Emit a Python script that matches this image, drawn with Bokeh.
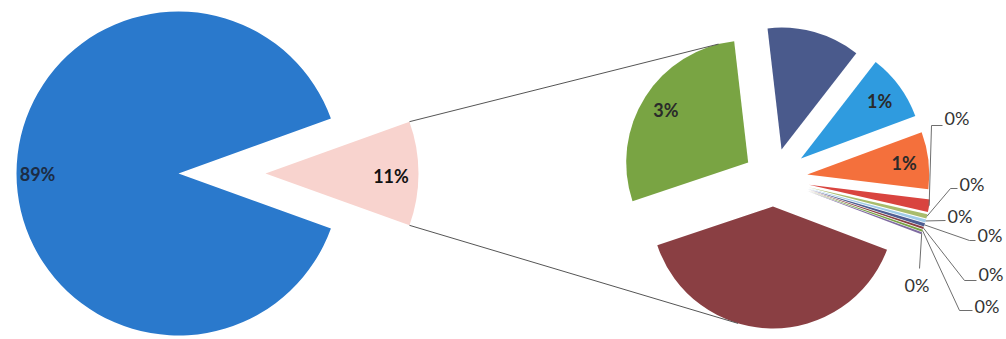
import math
from bokeh.plotting import figure
from bokeh.models import Range1d
from bokeh.embed import file_html
from bokeh.resources import INLINE
from bokeh.core.properties import value

# ---------------- data ----------------
main_categories = ["Main", "Detail"]
main_values = [89, 11]
main_colors = ["#2A79CC", "#F8D3CE"]

sub_categories = ["S1", "S2", "S3", "S4", "S5", "S6", "S7", "S8", "S9", "S10", "S11", "S12"]
sub_values = [1.35, 0.97, 0.83, 0.18, 0.06, 0.045, 0.045, 0.03, 0.03, 0.03, 4.28, 3.10]
sub_colors = ["#4A5A8C", "#2F9BDF", "#F4703C", "#D9443F", "#A9BC6C", "#9FCBE8",
              "#4E5E92", "#8A3F43", "#79A443", "#7E6AA0", "#8A3F43", "#79A443"]
sub_show_label = [False, True, True, True, True, True, True, True, True, True, False, True]

# ---------------- layout (image pixel coords, y down) ----------------
H = 339
def Y(y):
    return H - y

W_FIG, H_FIG = 1006, 339
p = figure(width=W_FIG, height=H_FIG, x_range=Range1d(0, 1006), y_range=Range1d(0, 339),
           x_axis_type=None, y_axis_type=None, toolbar_location=None,
           output_backend="svg", min_border=0, outline_line_color=None,
           background_fill_color="white", border_fill_color="white")
p.grid.visible = False

FONT = value("Lato")

# ---- main pie ----
mc = (178, Y(173))
mr = 162
detail_offset = 87
detail_r = 153
half = main_values[1] / sum(main_values) * 360 / 2
p.wedge(x=[mc[0]], y=[mc[1]], radius=mr, start_angle=[math.radians(half)],
        end_angle=[math.radians(360 - half)], direction="anticlock",
        fill_color=main_colors[0], line_color=None)
dc = (mc[0] + detail_offset, mc[1])
p.wedge(x=[dc[0]], y=[dc[1]], radius=detail_r, start_angle=[math.radians(-half)],
        end_angle=[math.radians(half)], direction="anticlock",
        fill_color=main_colors[1], line_color=None)

p.text(x=[mc[0] - mr * 0.87], y=[mc[1]], text=[f"{main_values[0]}%"],
       text_align="center", text_baseline="middle", text_font=FONT,
       text_font_size="18px", text_font_style="bold", text_color="#1C2C44")
p.text(x=[dc[0] + detail_r * 0.82], y=[dc[1] - 2], text=[f"{main_values[1]}%"],
       text_align="center", text_baseline="middle", text_font=FONT,
       text_font_size="18px", text_font_style="bold", text_color="#111111")

# ---- second pie ----
sc = (773, Y(178))
sr = 122
explode = [30, 34, 34, 36, 36, 36, 36, 36, 36, 36, 28, 30]
start_deg = 96.6
tot = sum(sub_values)
angles = []
a = start_deg
for v in sub_values:
    span = v / tot * 360
    angles.append((a - span, a))
    a -= span

centers = []
for (a0, a1), e, col in zip(angles, explode, sub_colors):
    mid = math.radians((a0 + a1) / 2)
    cx = sc[0] + e * math.cos(mid)
    cy = sc[1] + e * math.sin(mid)
    centers.append((cx, cy, mid))
    p.wedge(x=[cx], y=[cy], radius=sr, start_angle=[math.radians(a0)],
            end_angle=[math.radians(a1)], direction="anticlock",
            fill_color=col, line_color=None)

# inside labels for bigger slices, outside labels for tiny slices
outside_layout = [
    ((944, 117), [(931, 125), (942, 125)]),
    ((959, 183), [(950, 188), (957, 188)]),
    ((947, 215), [(945, 220)]),
    ((977, 234), [(969, 240), (975, 240)]),
    ((978, 273), [(964, 280), (976, 280)]),
    ((974, 305), [(959, 310), (972, 310)]),
    ((904, 284), [(919, 268)]),
]
k = 0
for i, v in enumerate(sub_values):
    if not sub_show_label[i]:
        continue
    cx, cy, mid = centers[i]
    txt = f"{round(v)}%"
    if v >= 0.5:
        p.text(x=[cx + sr * 0.8 * math.cos(mid)], y=[cy + sr * 0.8 * math.sin(mid)],
               text=[txt], text_align="center", text_baseline="middle", text_font=FONT,
               text_font_size="18px", text_font_style="bold", text_color="#2A2A2A")
    else:
        (lx, ly), elbow = outside_layout[k]
        k += 1
        ax = cx + sr * math.cos(mid)
        ay = cy + sr * math.sin(mid)
        xs = [ax] + [e[0] for e in elbow]
        ys = [ay] + [Y(e[1]) for e in elbow]
        p.line(xs, ys, line_color="#6E6E6E", line_width=1)
        p.text(x=[lx], y=[Y(ly)], text=[txt], text_align="left", text_baseline="middle",
               text_font=FONT, text_font_size="18px", text_color="#333333")

# ---- connector lines (tangents from detail slice corners to exploded slices) ----
def tangent(P, C, r, up):
    vx, vy = C[0] - P[0], C[1] - P[1]
    d = math.hypot(vx, vy)
    th = math.atan2(vy, vx)
    al = math.asin(r / d)
    L = math.sqrt(d * d - r * r)
    t = th + al if up else th - al
    return (P[0] + L * math.cos(t), P[1] + L * math.sin(t))

top_corner = (dc[0] + detail_r * math.cos(math.radians(half)), dc[1] + detail_r * math.sin(math.radians(half)))
bot_corner = (dc[0] + detail_r * math.cos(math.radians(-half)), dc[1] + detail_r * math.sin(math.radians(-half)))
g = centers[-1]
dr = centers[-2]
t_top = tangent(top_corner, (g[0], g[1]), sr, True)
t_bot = tangent(bot_corner, (dr[0], dr[1]), sr, False)
p.line([top_corner[0], t_top[0]], [top_corner[1], t_top[1]], line_color="#555555", line_width=1)
p.line([bot_corner[0], t_bot[0]], [bot_corner[1], t_bot[1]], line_color="#555555", line_width=1)

open("out.html", "w").write(file_html(p, INLINE))
